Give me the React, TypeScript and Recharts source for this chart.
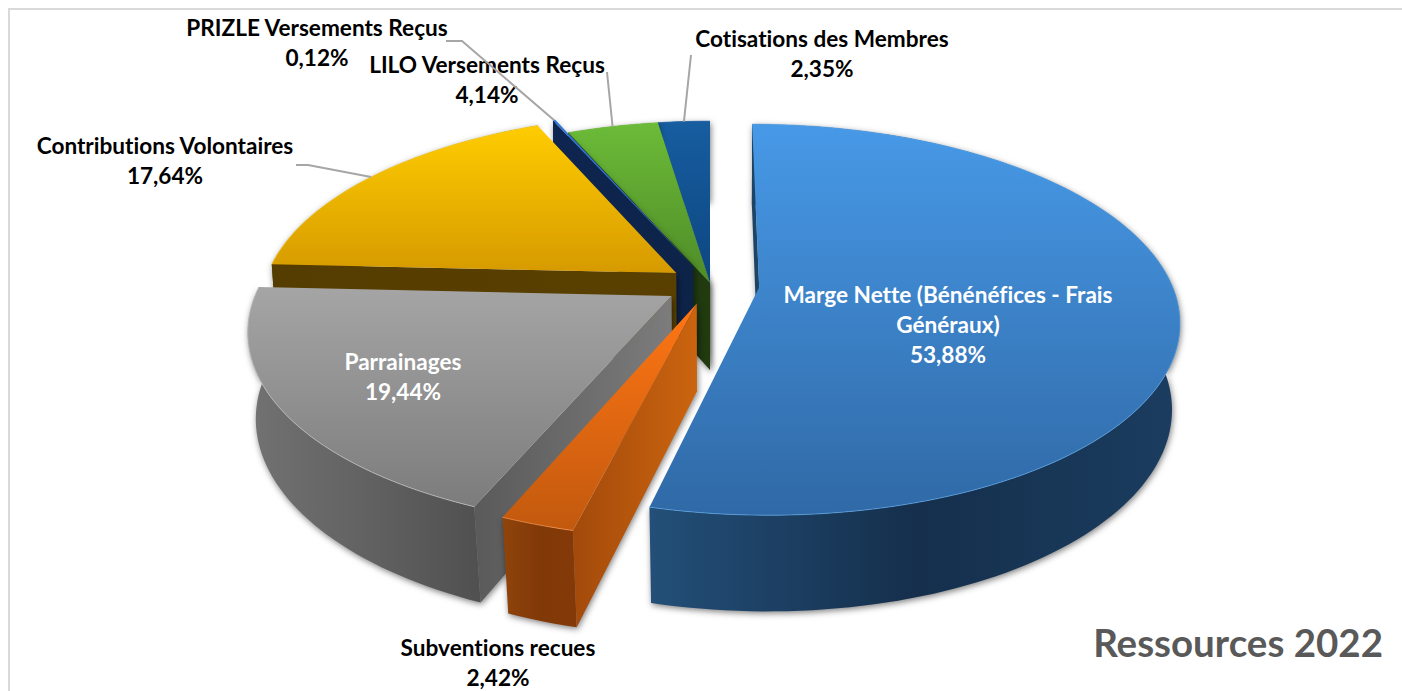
import React from "react";
import { PieChart, Pie } from "recharts";

const W = 1402;
const H = 691;
const CX = 710;
const CY = 283;
const R = 412;
const TILT = 0.458;
const PERSP = 0.166;
const FONT = "Lato, 'Open Sans', sans-serif";

// clockwise from the back of the pie, listed counter-clockwise so the painter's order works
const NAMES = [
  "Cotisations des Membres",
  "LILO Versements Reçus",
  "PRIZLE Versements Reçus",
  "Contributions Volontaires",
  "Parrainages",
  "Subventions recues",
  "Marge Nette (Bénénéfices - Frais Généraux)",
];
const VALUES = [2.35, 4.14, 0.12, 17.64, 19.44, 2.42, 53.88];

const data = NAMES.map((name, i) => ({ name, value: VALUES[i] }));

// explosion of each slice in the plane of the pie
const EXPLODE = [[0, 0], [0, 0], [-17, 37], [-34, 22], [-38, -28], [-13, -44], [49, -9]];

const TOP_COLORS = [
  ["#175da0", "#0d4680"],
  ["#6cbb38", "#4f8c28"],
  ["#2f74d6", "#2f74d6"],
  ["#ffcc00", "#d69a00"],
  ["#a5a5a5", "#7c7c7c"],
  ["#ff7614", "#c2590e"],
  ["#4799e7", "#3069a6"],
];
const EDGE_COLORS = ["#2a6cae", "#7ac84a", "#4f8fe8", "#ffd42a", "#c4c4c4", "#ff9a50", "#5aa6ea"];
const OUTER_WALL = [
  ["#123f6b", "#123f6b", "#123f6b"],
  ["#213a10", "#213a10", "#213a10"],
  ["#0e2550", "#0e2550", "#0e2550"],
  ["#573e00", "#4f3800", "#573e00"],
  ["#727272", "#626262", "#505050"],
  ["#90440b", "#813908", "#843a08"],
  ["#234f78", "#152f4c", "#1b3d60"],
];
const CUT_WALL = [
  ["#123f6b", "#123f6b"],
  ["#213a10", "#213a10"],
  ["#0e2550", "#0d2348"],
  ["#553c00", "#5a4000"],
  ["#5a5a5a", "#7c7c7c"],
  ["#a34a0b", "#cb640f"],
  ["#1d4366", "#1d4366"],
];

// label centre x, first baseline y, optional elbow of the leader line
const LABEL_LINES = [
  ["Cotisations des Membres", "2,35%"],
  ["LILO Versements Reçus", "4,14%"],
  ["PRIZLE Versements Reçus", "0,12%"],
  ["Contributions Volontaires", "17,64%"],
  ["Parrainages", "19,44%"],
  ["Subventions recues", "2,42%"],
  ["Marge Nette (Bénénéfices - Frais", "Généraux)", "53,88%"],
];
const LABEL_POS = [[822, 47], [487, 73], [317, 36], [165, 154], [403, 370], [498, 656], [948, 303]];
const LABEL_COLOR = ["#000", "#000", "#000", "#000", "#fff", "#000", "#fff"];
const LEADERS: number[][][] = [
  [[691, 55]],
  [[607, 72]],
  [[446, 41], [462, 41]],
  [[296, 165], [308, 165]],
  [],
  [],
  [],
];

const project = (X: number, Y: number) => {
  const s = 1 / (1 + (PERSP * Y) / R);
  return { x: CX + X * s, y: CY - TILT * Y * s, s };
};
const lower = (p: { x: number; y: number; s: number }) => ({
  x: CX + (p.x - CX) * (0.985 - 0.06 * (p.s - 1)),
  y: p.y + 87 + 45 * (p.s - 1),
  s: p.s,
});
const rad = (d: number) => (d * Math.PI) / 180;
const onArc = (i: number, angle: number, radius: number) =>
  project(EXPLODE[i][0] + radius * Math.cos(rad(angle)), EXPLODE[i][1] + radius * Math.sin(rad(angle)));
const toD = (pts: { x: number; y: number }[], close = true) =>
  pts.map((p, k) => `${k ? "L" : "M"}${p.x.toFixed(2)},${p.y.toFixed(2)}`).join("") + (close ? "Z" : "");

const gradient = (id: string, colors: string[], vertical: boolean) => (
  <linearGradient id={id} x1="0" y1="0" x2={vertical ? 0 : 1} y2={vertical ? 1 : 0}>
    {colors.map((c, k) => (
      <stop key={k} offset={colors.length > 1 ? k / (colors.length - 1) : 0} stopColor={c} />
    ))}
  </linearGradient>
);

const Slice3D = (props: any) => {
  const i = NAMES.indexOf(props.name ?? props.payload?.name);
  const a0 = props.startAngle;
  const a1 = props.endAngle;
  const r = props.outerRadius;
  const steps = Math.max(2, Math.ceil(Math.abs(a1 - a0) / 1.5));
  const arc: any[] = [];
  for (let k = 0; k <= steps; k++) arc.push(onArc(i, a0 + ((a1 - a0) * k) / steps, r));
  const apex = onArc(i, a0, 0);
  const mid = arc[Math.floor(steps / 2)];
  const wallOuter = [...arc, ...arc.map(lower).reverse()];

  const faces = [arc[0], arc[steps]]
    .filter((c) => {
      const cross = (u: any, v: any) => (c.x - apex.x) * (v.y - u.y) - (c.y - apex.y) * (v.x - u.x);
      return cross(apex, mid) * cross(c, lower(c)) < 0;
    })
    .map((c) => [apex, c, lower(c), lower(apex)]);

  return (
    <g>
      <defs>
        {gradient(`top${i}`, TOP_COLORS[i], true)}
        {gradient(`outer${i}`, OUTER_WALL[i], false)}
        {gradient(`cut${i}`, CUT_WALL[i], false)}
      </defs>
      <g style={{ filter: "drop-shadow(1px 2px 3px rgba(0,0,0,0.5))" }}>
        <path d={toD(wallOuter)} fill={`url(#outer${i})`} />
        {faces.map((f, k) => (
          <path key={k} d={toD(f)} fill={`url(#cut${i})`} />
        ))}
      </g>
      <path d={toD([apex, ...arc])} fill={`url(#top${i})`} />
      <path d={toD(arc, false)} fill="none" stroke={EDGE_COLORS[i]} strokeWidth={1} opacity={0.7} />
    </g>
  );
};

const SliceLabel = (props: any) => {
  const i = props.index;
  const [x, y] = LABEL_POS[i];
  const anchor = onArc(i, props.midAngle, props.outerRadius);
  const leader = LEADERS[i];
  return (
    <g>
      {leader.length > 0 && (
        <polyline
          points={[...leader, [anchor.x, anchor.y]].map((p) => p.join(",")).join(" ")}
          fill="none"
          stroke="#a6a6a6"
          strokeWidth={2}
        />
      )}
      {LABEL_LINES[i].map((line, k) => (
        <text
          key={k}
          x={x}
          y={y + k * 30}
          textAnchor="middle"
          fontFamily={FONT}
          fontWeight={700}
          fontSize={22.6}
          style={{ fontVariantLigatures: "none" }}
          fill={LABEL_COLOR[i]}
        >
          {line}
        </text>
      ))}
    </g>
  );
};

export default function App() {
  return (
    <div style={{ position: "absolute", left: 0, top: 0, width: W, height: H, overflow: "hidden", background: "#fff" }}>
      <div
        style={{
          position: "absolute",
          left: 8,
          top: 8,
          width: W,
          height: H,
          borderLeft: "2px solid #d9d9d9",
          borderTop: "2px solid #d9d9d9",
        }}
      />
      <div style={{ position: "absolute", left: 0, top: 0 }}>
        <PieChart width={W} height={H} margin={{ top: 0, right: 0, bottom: 0, left: 0 }}>
          <Pie
            data={data}
            dataKey="value"
            nameKey="name"
            cx={CX}
            cy={CY}
            innerRadius={0}
            outerRadius={R}
            startAngle={90}
            endAngle={450}
            stroke="none"
            shape={Slice3D}
            label={SliceLabel}
            labelLine={false}
            isAnimationActive={false}
          />
          <text x={1383} y={657} textAnchor="end" fontFamily={FONT} fontWeight={700} fontSize={38.5} fill="#595959">
            Ressources 2022
          </text>
        </PieChart>
      </div>
    </div>
  );
}
